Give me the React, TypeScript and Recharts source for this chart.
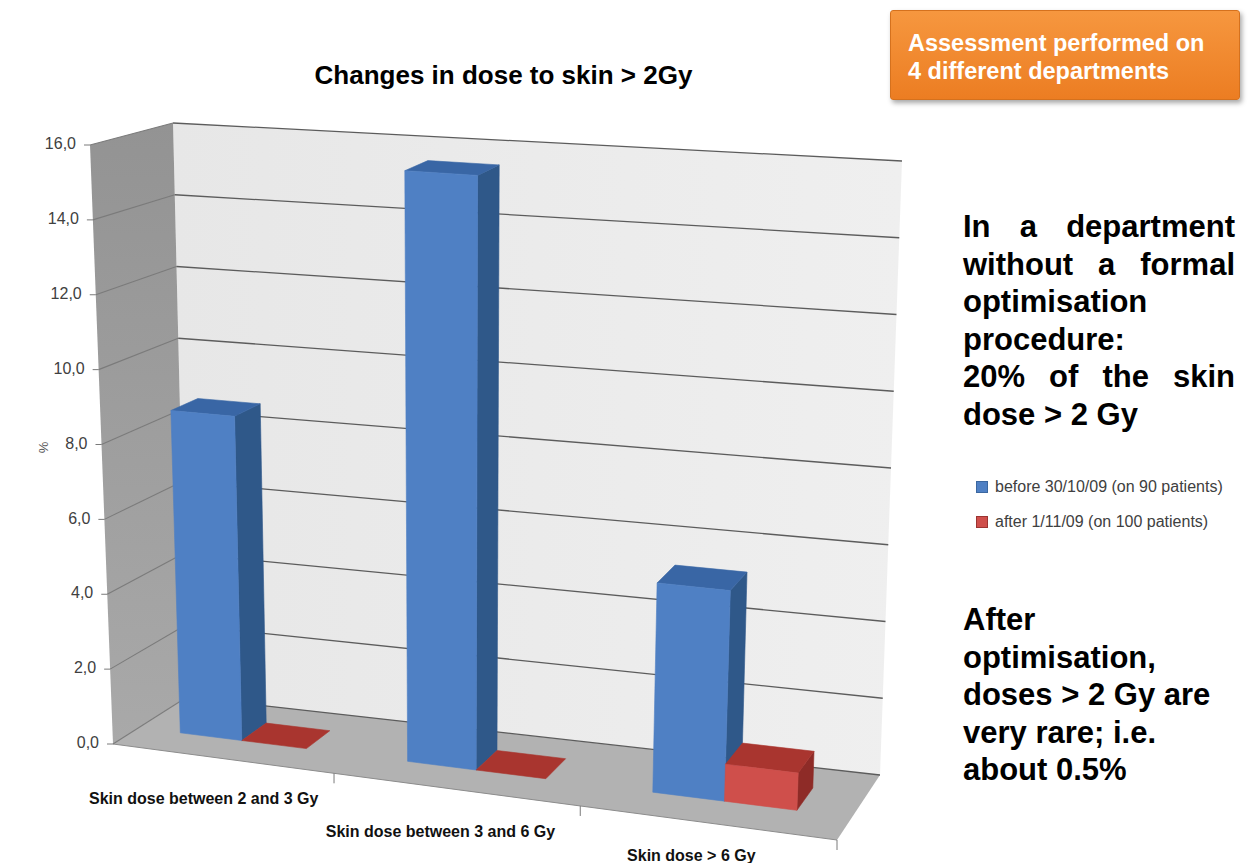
import { BarChart, Bar, XAxis, YAxis, CartesianGrid } from 'recharts';

const CATEGORIES = ['Skin dose between 2 and 3 Gy', 'Skin dose between 3 and 6 Gy', 'Skin dose > 6 Gy'];
const BEFORE = [8.7, 15.6, 5.4];
const AFTER = [0, 0, 0.95];
const Y_TICKS = [0, 2, 4, 6, 8, 10, 12, 14, 16];
const SERIES_NAMES = ['before 30/10/09 (on 90 patients)', 'after 1/11/09 (on 100 patients)'];

const data = CATEGORIES.map((category, i) => ({ category, before: BEFORE[i], after: AFTER[i] }));

const FONT = '"Liberation Sans", Arial, Helvetica, sans-serif';

// flat chart layout, every mark is re-projected into the 3D box below
const CHART_W = 1248;
const CHART_H = 863;
const MARGIN = { top: 150, right: 340, bottom: 120, left: 120 };
const Y_AXIS_W = 40;
const X_AXIS_H = 30;
const PLOT_LEFT = MARGIN.left + Y_AXIS_W;
const PLOT_TOP = MARGIN.top;
const PLOT_W = CHART_W - MARGIN.left - MARGIN.right - Y_AXIS_W;
const PLOT_H = CHART_H - MARGIN.top - MARGIN.bottom - X_AXIS_H;

type Pt = [number, number];

// screen corners of the 3D box: f/b = front/back, l/r = left/right, b/t = bottom/top
const BOX: Record<string, Pt> = {
  flb: [113, 744],
  flt: [90, 145],
  frb: [837, 840],
  frt: [864, 199],
  blb: [187, 697],
  blt: [173, 123],
  brb: [880, 775],
  brt: [902, 161],
};

// depth range occupied by the columns (0 = front, 1 = back wall)
const BAR_Z: [number, number] = [0.35, 0.7];

const BLUE = { front: '#4f80c4', top: '#3966a5', side: '#2f5889' };
const RED = { front: '#cf4f4b', top: '#a9352f', side: '#8e2b27' };

const lerp = (a: Pt, b: Pt, t: number): Pt => [a[0] + (b[0] - a[0]) * t, a[1] + (b[1] - a[1]) * t];

function project(u: number, v: number, z: number): Pt {
  const front = lerp(lerp(BOX.flb, BOX.frb, u), lerp(BOX.flt, BOX.frt, u), v);
  const back = lerp(lerp(BOX.blb, BOX.brb, u), lerp(BOX.blt, BOX.brt, u), v);
  return lerp(front, back, z);
}

// slight foreshortening along the category axis
const toU = (px: number) => Math.pow(Math.max(0, (px - PLOT_LEFT) / PLOT_W), 1.08);
const toV = (py: number) => (PLOT_TOP + PLOT_H - py) / PLOT_H;

const pts = (list: Pt[]) => list.map((p) => `${p[0].toFixed(1)},${p[1].toFixed(1)}`).join(' ');

function Walls() {
  const back = [project(0, 0, 1), project(1, 0, 1), project(1, 1, 1), project(0, 1, 1)];
  const left = [project(0, 0, 0), project(0, 0, 1), project(0, 1, 1), project(0, 1, 0)];
  const floor = [project(0, 0, 0), project(1, 0, 0), project(1, 0, 1), project(0, 0, 1)];
  const frontTicks = [1 / 3, 2 / 3, 1].map((t) => Math.pow(t, 1.08));
  return (
    <g>
      <defs>
        <linearGradient id="leftWall" x1="0" y1="0" x2="0" y2="1">
          <stop offset="0%" stopColor="#939393" />
          <stop offset="100%" stopColor="#a9a9a9" />
        </linearGradient>
        <linearGradient id="backWall" x1="0" y1="0" x2="1" y2="0">
          <stop offset="0%" stopColor="#e7e7e7" />
          <stop offset="100%" stopColor="#efefef" />
        </linearGradient>
      </defs>
      <polygon points={pts(back)} fill="url(#backWall)" />
      <polygon points={pts(left)} fill="url(#leftWall)" />
      <polygon points={pts(floor)} fill="#b2b2b2" />
      <line
        x1={floor[0][0]}
        y1={floor[0][1]}
        x2={floor[1][0]}
        y2={floor[1][1]}
        stroke="#8c8c8c"
        strokeWidth={1}
      />
      {frontTicks.map((u) => {
        const [x, y] = project(u, 0, 0);
        return <line key={u} x1={x} y1={y} x2={x} y2={y + 10} stroke="#7a7a7a" strokeWidth={1} />;
      })}
    </g>
  );
}

function GridLine(props: any) {
  const v = toV(props.y1);
  const a = project(0, v, 0);
  const b = project(0, v, 1);
  const c = project(1, v, 1);
  return (
    <g>
      {props.index === 0 && <Walls />}
      <line x1={a[0]} y1={a[1]} x2={b[0]} y2={b[1]} stroke="#7b7b7b" strokeWidth={1.1} />
      <line x1={b[0]} y1={b[1]} x2={c[0]} y2={c[1]} stroke="#5c5c5c" strokeWidth={1.3} />
    </g>
  );
}

function YTick(props: any) {
  const { y, payload } = props;
  const [ex, ey] = project(0, toV(y), 0);
  return (
    <g>
      <line x1={ex - 6} y1={ey} x2={ex} y2={ey} stroke="#7a7a7a" strokeWidth={1} />
      <text
        x={ex - 14}
        y={ey}
        textAnchor="end"
        dominantBaseline="middle"
        fontFamily={FONT}
        fontSize={16}
        fill="#404040"
      >
        {Number(payload.value).toFixed(1).replace('.', ',')}
      </text>
    </g>
  );
}

function XTick(props: any) {
  const { x, payload } = props;
  const [lx, ly] = project(toU(x), -0.07, 0);
  return (
    <text
      x={lx - 15}
      y={Math.min(ly, CHART_H - 6)}
      textAnchor="middle"
      dominantBaseline="middle"
      fontFamily={FONT}
      fontSize={16}
      fontWeight="bold"
      fill="#111"
    >
      {payload.value}
    </text>
  );
}

function Column(props: any) {
  const { x, y, width, height, colors } = props;
  if (x == null || y == null) return null;
  const u0 = toU(x);
  const u1 = toU(x + width);
  const vTop = toV(y);
  const vBot = toV(y + height);
  const [z0, z1] = BAR_Z;
  const front = [project(u0, vBot, z0), project(u1, vBot, z0), project(u1, vTop, z0), project(u0, vTop, z0)];
  const top = [project(u0, vTop, z0), project(u1, vTop, z0), project(u1, vTop, z1), project(u0, vTop, z1)];
  const side = [project(u1, vBot, z0), project(u1, vBot, z1), project(u1, vTop, z1), project(u1, vTop, z0)];
  const solid = height > 0.5;
  return (
    <g>
      {solid && <polygon points={pts(side)} fill={colors.side} stroke={colors.side} strokeWidth={0.6} />}
      <polygon points={pts(top)} fill={colors.top} stroke={colors.top} strokeWidth={0.6} />
      {solid && <polygon points={pts(front)} fill={colors.front} stroke={colors.front} strokeWidth={0.6} />}
    </g>
  );
}

const textBlock: React.CSSProperties = {
  position: 'absolute',
  left: 963,
  fontFamily: FONT,
  fontWeight: 'bold',
  fontSize: 31,
  lineHeight: '37.5px',
  color: '#000',
};

export default function App() {
  return (
    <div style={{ position: 'absolute', left: 0, top: 0, width: CHART_W, height: CHART_H, background: '#fff' }}>
      <BarChart
        width={CHART_W}
        height={CHART_H}
        data={data}
        margin={MARGIN}
        barCategoryGap="21.5%"
        barGap={0}
      >
        <CartesianGrid vertical={false} horizontal={(p: any) => <GridLine key={p.key} {...p} />} />
        <XAxis
          dataKey="category"
          height={X_AXIS_H}
          interval={0}
          axisLine={false}
          tickLine={false}
          tick={(p: any) => <XTick key={p.index} {...p} />}
        />
        <YAxis
          width={Y_AXIS_W}
          domain={[0, 16]}
          ticks={Y_TICKS}
          axisLine={false}
          tickLine={false}
          tick={(p: any) => <YTick key={p.index} {...p} />}
        />
        <Bar
          dataKey="before"
          name={SERIES_NAMES[0]}
          fill={BLUE.front}
          isAnimationActive={false}
          shape={(p: any) => <Column {...p} colors={BLUE} />}
        />
        <Bar
          dataKey="after"
          name={SERIES_NAMES[1]}
          fill={RED.front}
          isAnimationActive={false}
          shape={(p: any) => <Column {...p} colors={RED} />}
        />
      </BarChart>

      <div
        style={{
          position: 'absolute',
          left: 0,
          width: 1007,
          top: 60,
          textAlign: 'center',
          fontFamily: FONT,
          fontWeight: 'bold',
          fontSize: 26,
          lineHeight: '30px',
        }}
      >
        Changes in dose to skin &gt; 2Gy
      </div>

      <div
        style={{
          position: 'absolute',
          left: 38,
          top: 440,
          fontFamily: FONT,
          fontSize: 13,
          color: '#555',
          transform: 'rotate(-90deg)',
        }}
      >
        %
      </div>

      <div
        style={{
          position: 'absolute',
          left: 890,
          top: 10,
          width: 350,
          height: 90,
          boxSizing: 'border-box',
          padding: '18px 0 0 17px',
          background: 'linear-gradient(#f6973f, #ec7d22)',
          border: '1px solid #d5711d',
          borderRadius: 3,
          boxShadow: '2px 3px 5px rgba(0,0,0,0.35)',
          color: '#fff',
          fontFamily: FONT,
          fontWeight: 'bold',
          fontSize: 23.5,
          lineHeight: '28px',
        }}
      >
        Assessment performed on
        <br />4 different departments
      </div>

      <div style={{ ...textBlock, top: 208, width: 272, textAlign: 'justify' }}>
        In a department without a formal optimisation procedure:
        <br />
        20% of the skin dose &gt; 2 Gy
      </div>

      <div style={{ ...textBlock, top: 601, width: 265, textAlign: 'left' }}>
        After optimisation, doses &gt; 2 Gy are very rare; i.e. about 0.5%
      </div>

      {SERIES_NAMES.map((name, i) => (
        <div
          key={name}
          style={{
            position: 'absolute',
            left: 976,
            top: 476 + i * 35,
            display: 'flex',
            alignItems: 'center',
            fontFamily: FONT,
            fontSize: 16,
            lineHeight: '22px',
            color: '#404040',
          }}
        >
          <span
            style={{
              display: 'inline-block',
              width: 10,
              height: 10,
              marginRight: 7,
              background: i === 0 ? BLUE.front : RED.front,
              border: `1px solid ${i === 0 ? '#3b67a0' : '#9b3431'}`,
            }}
          />
          {name}
        </div>
      ))}
    </div>
  );
}
